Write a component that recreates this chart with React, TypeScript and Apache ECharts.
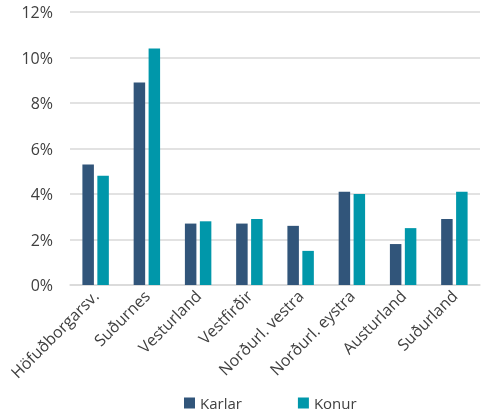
import React, { useEffect, useRef } from "react";
import * as echarts from "echarts";

const categories = [
  "Höfuðborgarsv.",
  "Suðurnes",
  "Vesturland",
  "Vestfirðir",
  "Norðurl. vestra",
  "Norðurl. eystra",
  "Austurland",
  "Suðurland",
];
const karlar = [5.3, 8.9, 2.7, 2.7, 2.6, 4.1, 1.8, 2.9];
const konur = [4.8, 10.4, 2.8, 2.9, 1.5, 4.0, 2.5, 4.1];
const seriesNames = ["Karlar", "Konur"];
const colors = ["#31557A", "#0097AA"];

const FONT = "Open Sans";

export default function App() {
  const ref = useRef<HTMLDivElement>(null);
  useEffect(() => {
    if (!ref.current) return;
    const chart = echarts.init(ref.current, null, { renderer: "svg" });
    chart.setOption({
      animation: false,
      textStyle: { fontFamily: FONT },
      color: colors,
      grid: { left: 70, right: 6, top: 12, bottom: 127, containLabel: false },
      legend: {
        bottom: 0,
        left: 184,
        padding: 0,
        itemWidth: 11,
        itemHeight: 11,
        itemGap: 56,
        itemStyle: { borderWidth: 0 },
        icon: "rect",
        textStyle: {
          fontFamily: FONT,
          fontSize: 15,
          lineHeight: 18,
          color: "#404040",
        },
        data: seriesNames,
      },
      xAxis: {
        type: "category",
        data: categories,
        axisLine: { show: true, lineStyle: { color: "#d9d9d9", width: 1.5 } },
        axisTick: { show: false },
        axisLabel: {
          rotate: 45,
          interval: 0,
          margin: 8,
          fontFamily: FONT,
          fontSize: 16,
          color: "#404040",
        },
      },
      yAxis: {
        type: "value",
        min: 0,
        max: 12,
        interval: 2,
        axisLine: { show: false },
        axisTick: { show: false },
        splitLine: { lineStyle: { color: "#d9d9d9", width: 1.5 } },
        axisLabel: {
          formatter: "{value}%",
          margin: 17,
          fontFamily: FONT,
          fontSize: 16,
          color: "#404040",
        },
      },
      series: [
        {
          name: seriesNames[0],
          type: "bar",
          data: karlar,
          barWidth: 11.5,
          barGap: "30%",
        },
        {
          name: seriesNames[1],
          type: "bar",
          data: konur,
          barWidth: 11.5,
          barGap: "30%",
        },
      ],
    });
    return () => chart.dispose();
  }, []);
  return (
    <div
      ref={ref}
      style={{ position: "fixed", left: 0, top: 0, width: 486, height: 412 }}
    />
  );
}
